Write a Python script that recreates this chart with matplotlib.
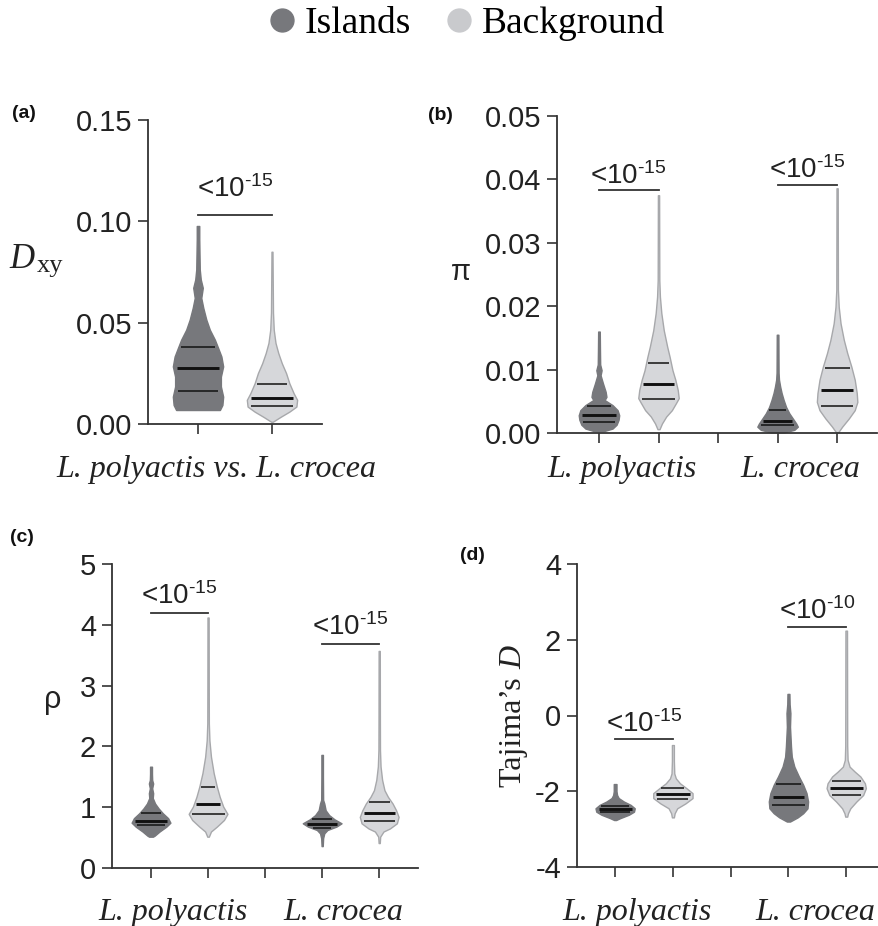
import numpy as np
import matplotlib
matplotlib.use('Agg')
import matplotlib.pyplot as plt
from matplotlib.lines import Line2D

plt.rcParams['font.family'] = 'Liberation Sans'
plt.rcParams['mathtext.default'] = 'regular'

# violin outlines: value levels and relative widths (max = 1)
# plus quartiles [Q1, median, Q3]

# (a) Dxy
a_isl_y = [0.0069, 0.0094, 0.0135, 0.0185, 0.0234, 0.0284, 0.0333, 0.0375, 0.0416,
           0.0465, 0.0515, 0.0573, 0.0622, 0.0672, 0.0713, 0.0762, 0.0911, 0.0977]
a_isl_w = [0.87, 0.97, 1.0, 0.91, 0.91, 1.0, 0.93, 0.80, 0.67,
           0.47, 0.33, 0.21, 0.13, 0.19, 0.11, 0.07, 0.05, 0.05]
a_isl_q = [0.0165, 0.0276, 0.0378]
a_bg_y = [0.0011, 0.0036, 0.0061, 0.0086, 0.0119, 0.0152, 0.0201, 0.0251, 0.030,
          0.035, 0.040, 0.0465, 0.055, 0.070, 0.085]
a_bg_w = [0.03, 0.35, 0.69, 0.97, 1.0, 0.86, 0.69, 0.56, 0.39, 0.25, 0.14, 0.07, 0.04, 0.03, 0.02]
a_bg_q = [0.0091, 0.0127, 0.0196]

# (b) pi
b_pol_isl_y = [0.0003, 0.0007, 0.0013, 0.0021, 0.0028, 0.0036, 0.0044, 0.0052, 0.0057,
               0.0065, 0.0078, 0.0091, 0.0099, 0.0108, 0.013, 0.016]
b_pol_isl_w = [0.25, 0.67, 0.87, 0.97, 1.0, 0.92, 0.67, 0.28, 0.37, 0.33, 0.2, 0.08, 0.13,
               0.06, 0.05, 0.04]
b_pol_isl_q = [0.0018, 0.0029, 0.0043]
b_pol_bg_y = [0.0006, 0.0015, 0.0026, 0.0036, 0.0047, 0.0055, 0.0068, 0.0084, 0.0099,
              0.0120, 0.0136, 0.0162, 0.0189, 0.0215, 0.0241, 0.030, 0.0375]
b_pol_bg_w = [0.05, 0.17, 0.38, 0.66, 0.86, 1.0, 0.95, 0.83, 0.69, 0.55, 0.43, 0.26, 0.14,
              0.07, 0.04, 0.035, 0.03]
b_pol_bg_q = [0.0053, 0.0078, 0.0111]
b_cro_isl_y = [0.0001, 0.0005, 0.0010, 0.0015, 0.0023, 0.0031, 0.0041, 0.0052, 0.0063,
               0.0073, 0.0084, 0.0095, 0.012, 0.0155]
b_cro_isl_w = [0.33, 0.83, 1.0, 0.92, 0.75, 0.58, 0.42, 0.3, 0.2, 0.13, 0.07, 0.05, 0.045, 0.04]
b_cro_isl_q = [0.0012, 0.0019, 0.0036]
b_cro_bg_y = [0.0001, 0.0010, 0.0023, 0.0036, 0.0049, 0.0063, 0.0084, 0.0105, 0.0126,
              0.0147, 0.0173, 0.0199, 0.0226, 0.030, 0.0386]
b_cro_bg_w = [0.05, 0.25, 0.58, 0.87, 1.0, 0.97, 0.87, 0.7, 0.5, 0.33, 0.17, 0.08, 0.04, 0.035, 0.03]
b_cro_bg_q = [0.0043, 0.0068, 0.0102]

# (c) rho
c_pol_isl_y = [0.515, 0.53, 0.60, 0.68, 0.745, 0.82, 0.90, 0.98, 1.06, 1.15, 1.23, 1.31,
               1.39, 1.447, 1.55, 1.666]
c_pol_isl_w = [0.1, 0.18, 0.44, 0.79, 1.0, 0.88, 0.61, 0.39, 0.21, 0.09, 0.11, 0.06, 0.11,
               0.06, 0.05, 0.05]
c_pol_isl_q = [0.707, 0.773, 0.91]
c_pol_bg_y = [0.515, 0.60, 0.68, 0.79, 0.89, 1.01, 1.17, 1.34, 1.56, 1.83, 2.1, 2.38, 3.0, 4.12]
c_pol_bg_w = [0.04, 0.15, 0.45, 0.82, 1.0, 0.78, 0.6, 0.45, 0.29, 0.15, 0.07, 0.04, 0.035, 0.03]
c_pol_bg_q = [0.89, 1.06, 1.34]
c_cro_isl_y = [0.36, 0.49, 0.57, 0.625, 0.68, 0.735, 0.80, 0.87, 0.95, 1.06, 1.12, 1.5, 1.86]
c_cro_isl_w = [0.03, 0.05, 0.11, 0.27, 0.73, 1.0, 0.64, 0.36, 0.18, 0.11, 0.05, 0.04, 0.04]
c_cro_isl_q = [0.66, 0.72, 0.81]
c_cro_bg_y = [0.41, 0.515, 0.60, 0.65, 0.735, 0.84, 0.95, 1.06, 1.17, 1.28, 1.45, 1.67,
              1.94, 2.5, 3.57]
c_cro_bg_w = [0.03, 0.05, 0.22, 0.55, 0.91, 1.0, 0.87, 0.69, 0.45, 0.27, 0.15, 0.07, 0.04,
              0.035, 0.03]
c_cro_bg_q = [0.78, 0.90, 1.08]

# (d) Tajima's D
d_pol_isl_y = [-2.76, -2.71, -2.62, -2.54, -2.45, -2.36, -2.27, -2.18, -2.10, -2.0, -1.81]
d_pol_isl_w = [0.05, 0.26, 0.7, 0.96, 1.0, 0.79, 0.44, 0.18, 0.1, 0.07, 0.07]
d_pol_isl_q = [-2.56, -2.48, -2.39]
d_pol_bg_y = [-2.69, -2.58, -2.45, -2.32, -2.18, -2.05, -1.92, -1.79, -1.66, -1.53, -1.2, -0.78]
d_pol_bg_w = [0.05, 0.09, 0.22, 0.64, 1.0, 1.0, 0.69, 0.36, 0.15, 0.07, 0.05, 0.05]
d_pol_bg_q = [-2.21, -2.08, -1.92]
d_cro_isl_y = [-2.80, -2.69, -2.58, -2.45, -2.27, -2.05, -1.83, -1.61, -1.35, -1.09, -0.82,
               -0.30, 0.06, 0.3, 0.57]
d_cro_isl_w = [0.08, 0.47, 0.75, 0.97, 1.0, 0.92, 0.75, 0.53, 0.3, 0.17, 0.13, 0.08, 0.1, 0.06, 0.05]
d_cro_isl_q = [-2.36, -2.14, -1.81]
d_cro_bg_y = [-2.67, -2.58, -2.45, -2.27, -2.10, -1.92, -1.79, -1.61, -1.48, -1.35, -1.17,
              -0.8, 0.5, 2.24]
d_cro_bg_w = [0.05, 0.09, 0.21, 0.52, 0.86, 1.0, 0.95, 0.72, 0.43, 0.17, 0.07, 0.05, 0.045, 0.04]
d_cro_bg_q = [-2.10, -1.92, -1.72]

# significance bars: (x1, x2, y, exponent)
a_sig = [(1, 2, 0.103, '15')]
b_sig = [(1, 2, 0.0383, '15'), (4, 5, 0.0391, '15')]
c_sig = [(1, 2, 4.2, '15'), (4, 5, 3.68, '15')]
d_sig = [(1, 2, -0.62, '15'), (4, 5, 2.34, '10')]

ISL = '#77787c'
BG = '#d6d7da'
BG_EDGE = '#a7a8ab'
AX = '#333333'
W, H = 879, 926


def violin(ax, x, ys, ws, qs, face, edge):
    ys = np.array(ys)
    half = np.array(ws) * 0.34
    ax.fill_betweenx(ys, x - half, x + half, facecolor=face, edgecolor=edge, lw=1, zorder=2)
    for i, q in enumerate(qs):
        hw = np.interp(q, ys, half) * 0.85
        ax.plot([x - hw, x + hw], [q, q], color='#111111', lw=2.1 if i == 1 else 1.1,
                solid_capstyle='butt', zorder=3)


def sig(ax, items, offsets):
    for (x1, x2, y, ex), off in zip(items, offsets):
        ax.plot([x1, x2], [y, y], color=AX, lw=1.3)
        # short hyphen in the exponent, as in the original
        ax.annotate('<10$^{\u2010' + ex + '}$', xy=((x1 + x2) / 2, y), xytext=(0, off),
                    textcoords='offset points', ha='center', va='baseline', fontsize=20,
                    color='#222222')


def style(ax, xlim, ylim, yticks, ylabels, xticks):
    ax.set_xlim(*xlim)
    ax.set_ylim(*ylim)
    for s in ['top', 'right']:
        ax.spines[s].set_visible(False)
    for s in ['left', 'bottom']:
        ax.spines[s].set_color(AX)
        ax.spines[s].set_linewidth(1.3)
    ax.set_yticks(yticks)
    ax.set_yticklabels(ylabels)
    ax.set_xticks(xticks)
    ax.set_xticklabels([])
    ax.tick_params(length=7.5, width=1.2, color=AX, labelsize=21, labelcolor='#222222', pad=4)


def axes_px(fig, left, right, top, bottom):
    return fig.add_axes([left / W, 1 - bottom / H, (right - left) / W, (bottom - top) / H])


fig = plt.figure(figsize=(8.79, 9.26), dpi=100)

# (a)
ax = axes_px(fig, 148, 322, 120, 424)
violin(ax, 1, a_isl_y, a_isl_w, a_isl_q, ISL, ISL)
violin(ax, 2, a_bg_y, a_bg_w, a_bg_q, BG, BG_EDGE)
sig(ax, a_sig, [13.5])
style(ax, (0.324, 2.676), (0, 0.15), [0, 0.05, 0.10, 0.15],
      ['0.00', '0.05', '0.10', '0.15'], [1, 2])

# (b)
ax = axes_px(fig, 557, 877, 116, 433)
violin(ax, 1, b_pol_isl_y, b_pol_isl_w, b_pol_isl_q, ISL, ISL)
violin(ax, 2, b_pol_bg_y, b_pol_bg_w, b_pol_bg_q, BG, BG_EDGE)
violin(ax, 4, b_cro_isl_y, b_cro_isl_w, b_cro_isl_q, ISL, ISL)
violin(ax, 5, b_cro_bg_y, b_cro_bg_w, b_cro_bg_q, BG, BG_EDGE)
sig(ax, b_sig, [4.8, 4.8])
style(ax, (0.295, 5.67), (0, 0.05), [0, 0.01, 0.02, 0.03, 0.04, 0.05],
      ['0.00', '0.01', '0.02', '0.03', '0.04', '0.05'], [1, 2, 3, 4, 5])

# (c)
ax = axes_px(fig, 112, 418, 564, 868)
violin(ax, 1, c_pol_isl_y, c_pol_isl_w, c_pol_isl_q, ISL, ISL)
violin(ax, 2, c_pol_bg_y, c_pol_bg_w, c_pol_bg_q, BG, BG_EDGE)
violin(ax, 4, c_cro_isl_y, c_cro_isl_w, c_cro_isl_q, ISL, ISL)
violin(ax, 5, c_cro_bg_y, c_cro_bg_w, c_cro_bg_q, BG, BG_EDGE)
sig(ax, c_sig, [6.5, 6.5])
style(ax, (0.316, 5.68), (0, 5), [0, 1, 2, 3, 4, 5],
      ['0', '1', '2', '3', '4', '5'], [1, 2, 3, 4, 5])

# (d)
ax = axes_px(fig, 577, 878, 564, 867)
violin(ax, 1, d_pol_isl_y, d_pol_isl_w, d_pol_isl_q, ISL, ISL)
violin(ax, 2, d_pol_bg_y, d_pol_bg_w, d_pol_bg_q, BG, BG_EDGE)
violin(ax, 4, d_cro_isl_y, d_cro_isl_w, d_cro_isl_q, ISL, ISL)
violin(ax, 5, d_cro_bg_y, d_cro_bg_w, d_cro_bg_q, BG, BG_EDGE)
sig(ax, d_sig, [5.2, 6.0])
style(ax, (0.34, 5.55), (-4, 4), [-4, -2, 0, 2, 4],
      ['-4', '-2', '0', '2', '4'], [1, 2, 3, 4, 5])


def ftext(x, y, s, **kw):
    return fig.text(x / W, 1 - y / H, s, **kw)


# panel letters
for (x, y), s in zip([(24, 113), (440, 116), (22, 537), (472, 556)], ['(a)', '(b)', '(c)', '(d)']):
    ftext(x, y, s, ha='center', va='center', fontsize=14, fontweight='bold', color='#111111')

# x labels
serif_it = dict(family='Liberation Serif', style='italic', fontsize=23, color='#222222',
                ha='center', va='baseline')
ftext(216, 477, 'L. polyactis vs. L. crocea', **serif_it)
ftext(622, 477, 'L. polyactis', **serif_it)
ftext(800, 477, 'L. crocea', **serif_it)
ftext(173, 920, 'L. polyactis', **serif_it)
ftext(343, 920, 'L. crocea', **serif_it)
ftext(637, 920, 'L. polyactis', **serif_it)
ftext(815, 920, 'L. crocea', **serif_it)

# y labels
ftext(9, 268, 'D', family='Liberation Serif', style='italic', fontsize=25, color='#222222',
      ha='left', va='baseline')
ftext(37, 272, 'xy', family='Liberation Serif', fontsize=19, color='#222222',
      ha='left', va='baseline')
ftext(461, 272, 'π', fontsize=21, color='#222222', ha='center', va='center')
ftext(53, 700, 'ρ', fontsize=22, color='#222222', ha='center', va='center')

# Tajima's D: roman part then italic D, stacked along the rotated baseline
t1 = ftext(521, 787, 'Tajima’s ', family='Liberation Serif', fontsize=23, color='#222222',
           ha='left', va='baseline', rotation=90, rotation_mode='anchor')
fig.canvas.draw()
bb = t1.get_window_extent()
ftext(521, H - bb.y1, 'D', family='Liberation Serif', style='italic', fontsize=23,
      color='#222222', ha='left', va='baseline', rotation=90, rotation_mode='anchor')

# legend
handles = [Line2D([], [], ls='', marker='o', ms=16.5, mfc=ISL, mec=ISL, label='Islands'),
           Line2D([], [], ls='', marker='o', ms=16.5, mfc='#c9cacd', mec='#c9cacd', label='Background')]
fig.legend(handles=handles, loc='upper center', bbox_to_anchor=(464 / W, 1.0), ncol=2,
           frameon=False, prop={'family': 'Liberation Serif', 'size': 27},
           handletextpad=0.1, columnspacing=0.8, handlelength=1.0, borderpad=0.1,
           borderaxespad=0.05)

fig.savefig('out.png', dpi=100)
